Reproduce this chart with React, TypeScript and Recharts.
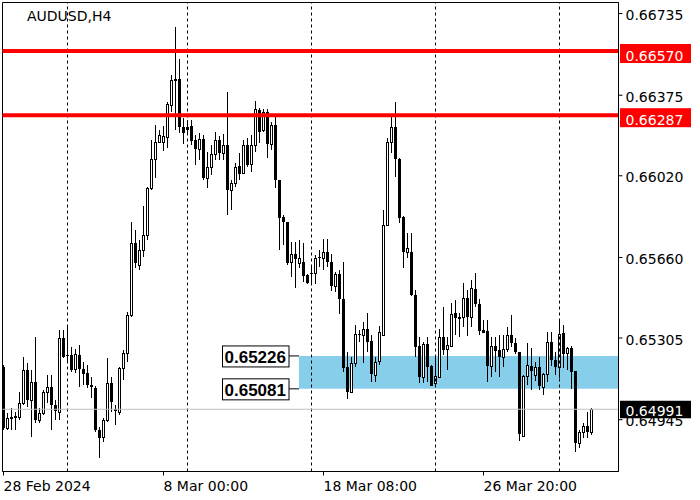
import React from "react";
import { ComposedChart, Bar, XAxis, YAxis, ReferenceLine, ReferenceArea } from "recharts";

// AUDUSD H4 candles
const opens = [
  0.65178, 0.64909, 0.64953, 0.64957, 0.64957, 0.65019, 0.65164, 0.65032, 0.65112, 0.64944,
  0.64975, 0.65067, 0.6509, 0.6501, 0.64979, 0.65305, 0.6523, 0.6523, 0.65169, 0.6523,
  0.65169, 0.65151, 0.65098, 0.65085, 0.649, 0.64869, 0.64944, 0.65107, 0.64993, 0.64979,
  0.65173, 0.65239, 0.65407, 0.65724, 0.65627, 0.65693, 0.65759, 0.65967, 0.66094, 0.66169,
  0.66169, 0.66191, 0.66332, 0.66447, 0.66447, 0.66235, 0.66226, 0.6624, 0.66178, 0.66138,
  0.66182, 0.66011, 0.66059, 0.66116, 0.66178, 0.66121, 0.66156, 0.65958, 0.65989, 0.66063,
  0.66033, 0.66156, 0.66072, 0.66156, 0.6631, 0.66222, 0.66301, 0.6616, 0.66244, 0.66002,
  0.65839, 0.65817, 0.6564, 0.65676, 0.65636, 0.6564, 0.65583, 0.65592, 0.65592, 0.65662,
  0.65658, 0.65684, 0.6564, 0.65535, 0.65587, 0.65477, 0.65178, 0.65067, 0.65195, 0.65323,
  0.65319, 0.65345, 0.65292, 0.65142, 0.65204, 0.65319, 0.65803, 0.66169, 0.66235, 0.66094,
  0.65839, 0.65684, 0.65684, 0.65495, 0.6527, 0.65134, 0.65279, 0.65182, 0.65107, 0.65134,
  0.6531, 0.65257, 0.6527, 0.65416, 0.65398, 0.65398, 0.65482, 0.65398, 0.65521, 0.65455,
  0.65341, 0.65336, 0.65182, 0.6527, 0.65252, 0.65222, 0.65257, 0.65319, 0.65283, 0.65244,
  0.64874, 0.65138, 0.65182, 0.65142, 0.65178, 0.6509, 0.65147, 0.65288, 0.65208, 0.65178,
  0.65328, 0.65239, 0.65261, 0.6516, 0.64843, 0.64891, 0.64918, 0.64891,
];
const highs = [
  0.65186, 0.64975, 0.64997, 0.64979, 0.65067, 0.65222, 0.65195, 0.65164, 0.6531, 0.64997,
  0.65076, 0.65142, 0.65142, 0.65032, 0.65341, 0.65341, 0.65354, 0.65266, 0.65257, 0.65275,
  0.652, 0.65186, 0.65134, 0.65094, 0.64913, 0.64953, 0.65217, 0.65134, 0.6501, 0.65178,
  0.65252, 0.6542, 0.65817, 0.65781, 0.65737, 0.65887, 0.65971, 0.66178, 0.66244, 0.66222,
  0.6624, 0.66345, 0.66464, 0.66676, 0.66535, 0.66275, 0.66266, 0.66266, 0.662, 0.66209,
  0.662, 0.66125, 0.66156, 0.66213, 0.66196, 0.66204, 0.6639, 0.66002, 0.66077, 0.66121,
  0.66178, 0.66187, 0.662, 0.6635, 0.66319, 0.66315, 0.66315, 0.66257, 0.66288, 0.66002,
  0.65848, 0.65817, 0.65729, 0.65729, 0.65737, 0.65724, 0.65587, 0.65618, 0.65671, 0.65693,
  0.65742, 0.65742, 0.65676, 0.65596, 0.65605, 0.6564, 0.65244, 0.65222, 0.65363, 0.65341,
  0.65376, 0.65416, 0.65319, 0.65222, 0.65358, 0.6587, 0.66187, 0.66279, 0.66345, 0.66099,
  0.65843, 0.65768, 0.65768, 0.65517, 0.6531, 0.65288, 0.6531, 0.65186, 0.65222, 0.65345,
  0.65442, 0.6531, 0.6546, 0.65473, 0.65416, 0.65548, 0.65517, 0.65561, 0.65592, 0.65477,
  0.65385, 0.65385, 0.6531, 0.6531, 0.65319, 0.65319, 0.65354, 0.65407, 0.65305, 0.65244,
  0.65142, 0.65283, 0.65261, 0.652, 0.65222, 0.65151, 0.65332, 0.65332, 0.65244, 0.65385,
  0.65363, 0.65266, 0.6527, 0.6516, 0.649, 0.64931, 0.64979, 0.64997,
];
const lows = [
  0.649, 0.649, 0.649, 0.649, 0.64944, 0.6501, 0.65001, 0.64869, 0.64931, 0.64931,
  0.64966, 0.65019, 0.649, 0.64944, 0.64944, 0.65217, 0.652, 0.65156, 0.65151, 0.6509,
  0.65098, 0.65085, 0.65041, 0.64891, 0.64777, 0.64847, 0.64935, 0.64979, 0.64922, 0.64966,
  0.6512, 0.652, 0.65398, 0.65614, 0.65605, 0.65662, 0.65737, 0.65958, 0.66011, 0.66165,
  0.6613, 0.66143, 0.66301, 0.66222, 0.66209, 0.6616, 0.662, 0.66156, 0.66068, 0.6609,
  0.66002, 0.65967, 0.66024, 0.6609, 0.6609, 0.6609, 0.65848, 0.6587, 0.65971, 0.66002,
  0.66028, 0.66059, 0.66037, 0.66125, 0.66165, 0.66213, 0.66099, 0.66134, 0.65967, 0.65693,
  0.65715, 0.65627, 0.65574, 0.65526, 0.65614, 0.65552, 0.65543, 0.65539, 0.65543, 0.65618,
  0.65605, 0.65618, 0.65513, 0.65508, 0.65411, 0.65156, 0.65037, 0.65063, 0.65178, 0.65288,
  0.65195, 0.65244, 0.65112, 0.65112, 0.65186, 0.65314, 0.65799, 0.66121, 0.66015, 0.65812,
  0.65614, 0.65658, 0.6549, 0.65222, 0.65107, 0.65107, 0.65112, 0.65094, 0.6509, 0.65129,
  0.6523, 0.65164, 0.65266, 0.65319, 0.6531, 0.65354, 0.65314, 0.65354, 0.65442, 0.65319,
  0.65328, 0.65112, 0.65134, 0.65156, 0.65134, 0.65178, 0.65244, 0.65266, 0.65235, 0.64852,
  0.64869, 0.65098, 0.65076, 0.65116, 0.65076, 0.65054, 0.65112, 0.65182, 0.65142, 0.65129,
  0.65173, 0.65164, 0.65081, 0.64803, 0.64821, 0.64865, 0.64865, 0.64878,
];
const closes = [
  0.64909, 0.64953, 0.64957, 0.64962, 0.65019, 0.65164, 0.65032, 0.65112, 0.64944, 0.64975,
  0.65067, 0.6509, 0.6501, 0.64984, 0.65305, 0.65222, 0.65226, 0.65164, 0.65235, 0.65169,
  0.65147, 0.65098, 0.6509, 0.649, 0.64865, 0.64944, 0.65107, 0.65023, 0.64984, 0.65173,
  0.65239, 0.65407, 0.65724, 0.65636, 0.65693, 0.65759, 0.65967, 0.66094, 0.66169, 0.662,
  0.66196, 0.66337, 0.66442, 0.66438, 0.66235, 0.66209, 0.66235, 0.66174, 0.66138, 0.66182,
  0.66011, 0.66059, 0.66116, 0.66178, 0.66121, 0.66156, 0.65958, 0.65989, 0.66059, 0.66028,
  0.66156, 0.66068, 0.66156, 0.66315, 0.66213, 0.66301, 0.6616, 0.66244, 0.66002, 0.65834,
  0.65817, 0.65636, 0.65676, 0.65654, 0.65658, 0.65579, 0.65548, 0.65587, 0.65658, 0.65658,
  0.65684, 0.6564, 0.65535, 0.65587, 0.65477, 0.65173, 0.65067, 0.65195, 0.65323, 0.65319,
  0.65345, 0.65288, 0.65147, 0.652, 0.65332, 0.65803, 0.66169, 0.66235, 0.66094, 0.65834,
  0.65684, 0.65702, 0.65495, 0.65266, 0.65134, 0.65279, 0.65178, 0.65094, 0.65138, 0.6531,
  0.65252, 0.65275, 0.65411, 0.65394, 0.65389, 0.65482, 0.65398, 0.65526, 0.65455, 0.65336,
  0.65328, 0.65182, 0.6527, 0.65248, 0.65222, 0.65257, 0.65319, 0.65283, 0.65244, 0.64882,
  0.65138, 0.65186, 0.6516, 0.65178, 0.65094, 0.65147, 0.65288, 0.65208, 0.65178, 0.65323,
  0.65235, 0.65261, 0.65156, 0.64843, 0.64891, 0.64918, 0.64891, 0.64991,
];

const dateTicks = [0, 40, 80, 120];
const dateLabels = ["28 Feb 2024", "8 Mar 00:00", "18 Mar 08:00", "26 Mar 20:00"];
const gridBars = [16, 46, 77, 108, 139];
const priceTicks = [0.66735, 0.66375, 0.6602, 0.6566, 0.65305, 0.64945];
const redLevels = [0.6657, 0.66287];
const zoneTop = 0.65226;
const zoneBottom = 0.65081;
const zoneStartBar = 73.875;
const lastPrice = 0.64991;

const X_DOMAIN: [number, number] = [-0.25, 153.75];
const Y_DOMAIN: [number, number] = [0.647167, 0.667837];
const FONT = "DejaVu Sans";

const rows = opens.map((o, i) => ({
  bar: i,
  o,
  h: highs[i],
  l: lows[i],
  c: closes[i],
  range: [lows[i], highs[i]],
}));

// snap to the pixel grid so the 1px wicks and outlines stay sharp
function Candle(props: any) {
  const { x, y, width, height, payload } = props;
  if (!payload || height == null) return null;
  const { o, h, l, c } = payload;
  const toY = (v: number) => y + ((h - v) / (h - l)) * height;
  const cx = Math.round(x + width / 2 - 0.5) + 0.5;
  const wickTop = Math.round(y);
  const wickBottom = Math.round(y + height);
  const top = Math.round(toY(Math.max(o, c)));
  const bottom = Math.round(toY(Math.min(o, c)));
  const up = c >= o;
  return (
    <g>
      <line x1={cx} x2={cx} y1={wickTop} y2={Math.max(wickBottom, wickTop + 1)} stroke="#000" strokeWidth={1} />
      {up ? (
        <rect
          x={cx - 1}
          y={top + 0.5}
          width={2}
          height={Math.max(bottom - top, 1)}
          fill="#fff"
          stroke="#000"
          strokeWidth={1}
        />
      ) : (
        <rect x={cx - 1.5} y={top} width={3} height={Math.max(bottom - top, 1)} fill="#000" />
      )}
    </g>
  );
}

function DateTick(props: any) {
  const { x, y, payload } = props;
  const idx = dateTicks.indexOf(payload.value);
  return (
    <text x={x} y={y + 15} textAnchor="start" fontSize={14} fontFamily={FONT} fill="#000">
      {dateLabels[idx]}
    </text>
  );
}

function PriceTick(props: any) {
  const { x, y, payload } = props;
  return (
    <text x={x} y={y + 6.5} textAnchor="start" fontSize={14} fontFamily={FONT} fill="#000">
      {Number(payload.value).toFixed(5)}
    </text>
  );
}

function LevelTag(props: any) {
  const { viewBox, text, fill, boxTop, boxH, textDy } = props;
  if (!viewBox) return null;
  const right = viewBox.x + viewBox.width;
  const ly = viewBox.y;
  return (
    <g>
      <rect x={right + 1.5} y={ly + boxTop} width={71} height={boxH} fill={fill} />
      <text x={right + 7} y={ly + textDy} fontSize={14} fontFamily={FONT} fill="#fff">
        {text}
      </text>
    </g>
  );
}

function ZoneTags(props: any) {
  const { viewBox } = props;
  if (!viewBox) return null;
  const { x, y, height } = viewBox;
  const tags = [
    { v: zoneTop, ly: y },
    { v: zoneBottom, ly: y + height },
  ];
  return (
    <g>
      {tags.map((t) => (
        <g key={t.v}>
          <line x1={x - 10} x2={x} y1={t.ly} y2={t.ly} stroke="#000" strokeWidth={1} />
          <rect x={x - 76.5} y={t.ly - 10} width={66.5} height={21} fill="#fff" stroke="#000" strokeWidth={1} />
          <text x={x - 74.5} y={t.ly + 7.5} fontSize={17} fontWeight="bold" fontFamily="Liberation Sans" fill="#000">
            {t.v.toFixed(5)}
          </text>
        </g>
      ))}
    </g>
  );
}

export default function App() {
  return (
    <div style={{ position: "absolute", left: 0, top: 0, width: 700, height: 500, background: "#fff" }}>
      <ComposedChart
        width={700}
        height={500}
        data={rows}
        margin={{ top: 2.5, right: 0, bottom: 0, left: 2.5 }}
      >
        <XAxis
          dataKey="bar"
          type="number"
          domain={X_DOMAIN}
          allowDataOverflow
          ticks={dateTicks}
          interval={0}
          height={28.5}
          tickSize={4}
          tickMargin={0}
          axisLine={{ stroke: "#000" }}
          tickLine={{ stroke: "#000" }}
          tick={<DateTick />}
        />
        <YAxis
          orientation="right"
          type="number"
          domain={Y_DOMAIN}
          allowDataOverflow
          ticks={priceTicks}
          interval={0}
          width={81.5}
          tickSize={4}
          tickMargin={3}
          axisLine={{ stroke: "#000" }}
          tickLine={{ stroke: "#000" }}
          tick={<PriceTick />}
        />
        <ReferenceArea
          x1={zoneStartBar}
          x2={X_DOMAIN[1]}
          y1={zoneBottom}
          y2={zoneTop}
          fill="#87ceeb"
          fillOpacity={1}
          stroke="none"
          label={<ZoneTags />}
        />
        {gridBars.map((b) => (
          <ReferenceLine key={b} x={b} stroke="#000" strokeWidth={1} strokeDasharray="3 3" />
        ))}
        <ReferenceArea
          x1={X_DOMAIN[0]}
          x2={X_DOMAIN[1]}
          y1={Y_DOMAIN[0]}
          y2={Y_DOMAIN[1]}
          fill="none"
          fillOpacity={0}
          stroke="#000"
          strokeWidth={1}
        />
        <Bar dataKey="range" barSize={3} shape={<Candle />} isAnimationActive={false} />
        <ReferenceLine
          y={lastPrice}
          stroke="#c0c0c0"
          strokeWidth={1}
          label={<LevelTag text={lastPrice.toFixed(5)} fill="#000" boxTop={-8.5} boxH={17.5} textDy={6.7} />}
        />
        {redLevels.map((lv) => (
          <ReferenceLine
            key={lv}
            y={lv}
            stroke="#ff0000"
            strokeWidth={4}
            label={<LevelTag text={lv.toFixed(5)} fill="#ff0000" boxTop={-7} boxH={19} textDy={10.2} />}
          />
        ))}
      </ComposedChart>
      <svg
        width={700}
        height={500}
        style={{ position: "absolute", left: 0, top: 0, pointerEvents: "none" }}
      >
        <text x={27} y={20.7} fontSize={14} fontFamily={FONT} fill="#000">
          AUDUSD,H4
        </text>
      </svg>
    </div>
  );
}
